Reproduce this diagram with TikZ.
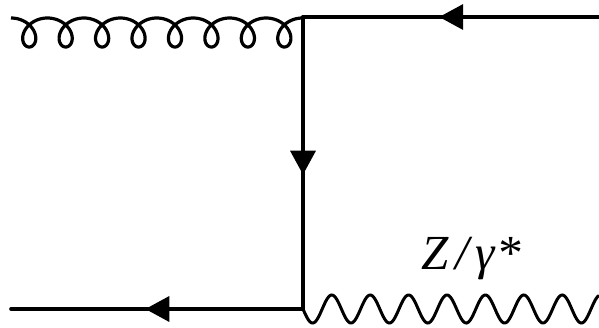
\documentclass[tikz,border=0pt]{standalone}
\usepackage{fontspec}
\setmainfont{Liberation Serif}
\usetikzlibrary{arrows.meta,decorations.markings}
\tikzset{
  fermion/.style={line width=3.6pt, line cap=round,
    postaction={decorate},
    decoration={markings, mark=at position 0.54 with {\arrow{Triangle[length=24pt,width=25pt]}}}},
  gluonline/.style={line width=3.2pt, line join=round},
  photonline/.style={line width=3pt},
  lbl/.style={font=\fontsize{49}{52}\selectfont\itshape, inner sep=0pt}
}
\begin{document}
\begin{tikzpicture}[x=1pt,y=-1pt]
\useasboundingbox (0,0) rectangle (599,327);
\coordinate (g) at (11,18);
\coordinate (v1) at (303,17);
\coordinate (t) at (599,17);
\coordinate (v2) at (303,309);
\coordinate (b) at (11,309);
\coordinate (p) at (599,309);
% fermion lines
\draw[fermion] (t) -- (v1);
\draw[fermion] (v1) -- (v2);
\draw[fermion] (v2) -- (b);
% gluon
\begin{scope}[shift={(g)}]
\draw[gluonline] plot[domain=0:16*pi, samples=600, variable=\t, smooth]
  ({5.8*\t+14.5*sin(\t r)}, {14.5-14.5*cos(\t r)});
\end{scope}
% photon
\begin{scope}[shift={(v2)}]
\draw[photonline] plot[domain=0:296, samples=300, variable=\s, smooth]
  ({\s}, {14*sin(9.375*\s)});
\end{scope}
\node[lbl, anchor=base west] (lab) at (421,269) {Z\kern7pt/\kern6ptγ\kern2pt*};
\end{tikzpicture}
\end{document}
